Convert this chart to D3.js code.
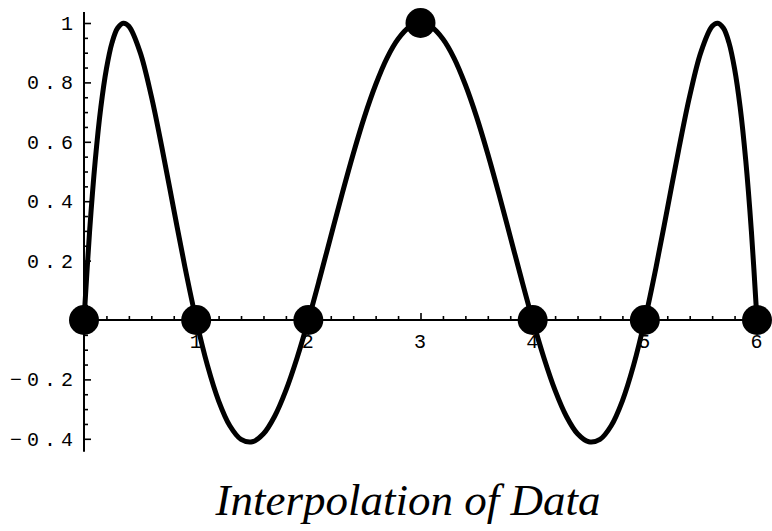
<!DOCTYPE html>
<html>
<head>
<meta charset="utf-8">
<script src="https://cdn.jsdelivr.net/npm/d3@7"></script>
<style>
  html, body { margin: 0; padding: 0; background: #fff; }
  svg { display: block; }
  .lbl { font-family: "Liberation Mono", "DejaVu Sans Mono", monospace; font-size: 20px; fill: #000; letter-spacing: 5px; }
  .title { font-family: "Liberation Serif", "Times New Roman", serif; font-style: italic; font-size: 45px; fill: #000; }
</style>
</head>
<body>
<svg id="chart" width="772" height="531"></svg>
<script>
// Data points being interpolated
const dataX = [0, 1, 2, 3, 4, 5, 6];
const dataY = [0, 0, 0, 1, 0, 0, 0];

// Interpolating curve, sampled
const curveX = [0, 0.05, 0.1, 0.15, 0.2, 0.25, 0.3, 0.35, 0.4, 0.5, 0.6, 0.7, 0.8, 0.9, 1,
  1.1, 1.2, 1.3, 1.4, 1.5, 1.6, 1.7, 1.8, 1.9, 2,
  2.1, 2.2, 2.3, 2.4, 2.5, 2.6, 2.7, 2.8, 2.9, 3,
  3.1, 3.2, 3.3, 3.4, 3.5, 3.6, 3.7, 3.8, 3.9, 4,
  4.1, 4.2, 4.3, 4.4, 4.5, 4.6, 4.7, 4.8, 4.9, 5,
  5.1, 5.2, 5.3, 5.4, 5.5, 5.6, 5.65, 5.7, 5.75, 5.8, 5.85, 5.9, 5.95, 6];
const curveY = [0, 0.299, 0.536, 0.716, 0.846, 0.934, 0.983, 0.999, 0.989, 0.902, 0.754, 0.570, 0.373, 0.178, 0,
  -0.152, -0.272, -0.356, -0.402, -0.410, -0.383, -0.324, -0.237, -0.127, 0,
  0.138, 0.281, 0.423, 0.559, 0.684, 0.792, 0.881, 0.946, 0.986, 1,
  0.986, 0.946, 0.881, 0.792, 0.684, 0.559, 0.423, 0.281, 0.138, 0,
  -0.127, -0.237, -0.324, -0.383, -0.410, -0.402, -0.356, -0.272, -0.152, 0,
  0.178, 0.373, 0.570, 0.754, 0.902, 0.989, 0.999, 0.983, 0.934, 0.846, 0.716, 0.536, 0.299, 0];

// Tick definitions
const xMajor = [1, 2, 3, 4, 5, 6];
const xLabels = ["1", "2", "3", "4", "5", "6"];
const yMajor = [1, 0.8, 0.6, 0.4, 0.2, -0.2, -0.4];
const yLabels = ["1", "0.8", "0.6", "0.4", "0.2", "\u22120.2", "\u22120.4"];

const svg = d3.select("#chart");
const x = d3.scaleLinear().domain([0, 6]).range([84, 757]);
const y = d3.scaleLinear().domain([-0.4, 1]).range([438.8, 23]);

const xMinor = d3.range(1, 31).map(i => i * 0.2).filter(v => Math.abs(v - Math.round(v)) > 1e-6);
const yMinor = d3.range(-8, 21).map(i => i * 0.05)
  .filter(v => Math.abs(v * 5 - Math.round(v * 5)) > 1e-6);

// Axis lines
svg.append("line").attr("x1", x(0)).attr("x2", x(6.02)).attr("y1", y(0)).attr("y2", y(0))
  .attr("stroke", "#000").attr("stroke-width", 2);
svg.append("line").attr("x1", x(0)).attr("x2", x(0)).attr("y1", y(1.037)).attr("y2", y(-0.444))
  .attr("stroke", "#000").attr("stroke-width", 2);

// Y ticks (pointing into the plot)
const yTicksMajor = svg.append("g").attr("transform", `translate(${x(0)},0)`)
  .call(d3.axisRight(y).tickValues(yMajor).tickSize(7).tickSizeOuter(0).tickFormat(""));
const yTicksMinor = svg.append("g").attr("transform", `translate(${x(0)},0)`)
  .call(d3.axisRight(y).tickValues(yMinor).tickSize(4).tickSizeOuter(0).tickFormat(""));

// X ticks (pointing up)
const xTicksMajor = svg.append("g").attr("transform", `translate(0,${y(0)})`)
  .call(d3.axisTop(x).tickValues(xMajor).tickSize(7).tickSizeOuter(0).tickFormat(""));
const xTicksMinor = svg.append("g").attr("transform", `translate(0,${y(0)})`)
  .call(d3.axisTop(x).tickValues(xMinor).tickSize(4).tickSizeOuter(0).tickFormat(""));

[yTicksMajor, yTicksMinor, xTicksMajor, xTicksMinor].forEach(g => {
  g.select(".domain").remove();
  g.selectAll("line").attr("stroke", "#000").attr("stroke-width", 1.6);
});

// Tick labels
svg.append("g").selectAll("text").data(yMajor).join("text")
  .attr("class", "lbl")
  .attr("x", 78)
  .attr("y", d => y(d))
  .attr("dy", "0.35em")
  .attr("text-anchor", "end")
  .text((d, i) => yLabels[i]);

svg.append("g").selectAll("text").data(xMajor).join("text")
  .attr("class", "lbl")
  .attr("x", d => x(d) + 2)
  .attr("y", y(0) + 28)
  .attr("text-anchor", "middle")
  .text((d, i) => xLabels[i]);

// Interpolating curve
const pts = curveX.map((v, i) => [v, curveY[i]]);
svg.append("path")
  .datum(pts)
  .attr("fill", "none")
  .attr("stroke", "#000")
  .attr("stroke-width", 5)
  .attr("stroke-linejoin", "round")
  .attr("d", d3.line().x(d => x(d[0])).y(d => y(d[1])).curve(d3.curveCatmullRom.alpha(0.5)));

// Data points
svg.append("g").selectAll("circle").data(dataX).join("circle")
  .attr("cx", d => x(d))
  .attr("cy", (d, i) => y(dataY[i]))
  .attr("r", 15)
  .attr("fill", "#000");

// Caption
svg.append("text")
  .attr("class", "title")
  .attr("x", 408)
  .attr("y", 515)
  .attr("text-anchor", "middle")
  .text("Interpolation of Data");
</script>
</body>
</html>
